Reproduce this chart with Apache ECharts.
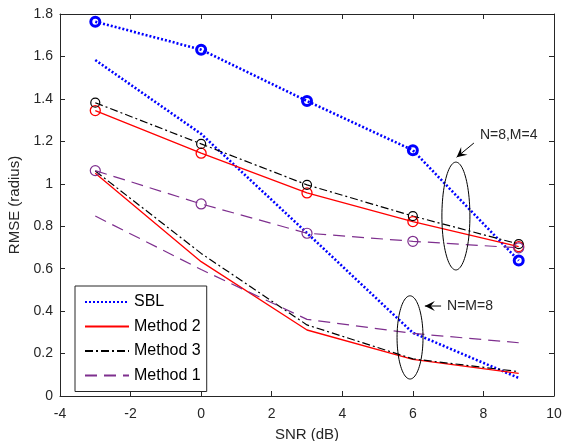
<!DOCTYPE html>
<html>
<head>
<meta charset="utf-8">
<script src="https://cdn.jsdelivr.net/npm/echarts@6/dist/echarts.min.js"></script>
<style>
  html, body { margin: 0; padding: 0; background: #fff; }
  #chart { width: 562px; height: 441px; }
</style>
</head>
<body>
<div id="chart"></div>
<script>
// SNR points (dB)
const snr = [-3, 0, 3, 6, 9];

// N=8, M=4 (with markers)
const sblA = [1.764, 1.632, 1.39, 1.158, 0.638];
const m2A = [1.345, 1.144, 0.957, 0.822, 0.704];
const m3A = [1.382, 1.188, 0.995, 0.848, 0.716];
const m1A = [1.062, 0.905, 0.767, 0.729, 0.698];

// N=M=8 (no markers)
const sblB = [1.583, 1.235, 0.768, 0.298, 0.085];
const m2B = [1.05, 0.633, 0.311, 0.173, 0.107];
const m3B = [1.06, 0.672, 0.335, 0.175, 0.115];
const m1B = [0.848, 0.596, 0.361, 0.295, 0.251];

const xTicks = [-4, 10, 2];
const yTicks = [0, 1.8, 0.2];

const seriesNames = ['SBL', 'Method 2', 'Method 3', 'Method 1'];

const TXT = '#262626';
const FONT = 'Liberation Sans, Arial, sans-serif';

const styles = {
  'SBL': { color: '#0000ff', width: 2.6, type: [2, 2], size: 9, bw: 3 },
  'Method 2': { color: '#ff0000', width: 1.3, type: 'solid', size: 10, bw: 1.3 },
  'Method 3': { color: '#000000', width: 1.2, type: [8, 3, 2, 3], size: 9, bw: 1.2 },
  'Method 1': { color: '#7e2f8e', width: 1.2, type: [12, 7], size: 10, bw: 1.2 }
};

function pairs(vals) {
  return snr.map((x, i) => [x, vals[i]]);
}

function makeSeries(name, vals, marker) {
  const s = styles[name];
  return {
    name: name,
    type: 'line',
    data: pairs(vals),
    symbol: marker ? 'circle' : 'none',
    symbolSize: s.size,
    showSymbol: marker,
    lineStyle: { color: s.color, width: s.width, type: s.type, cap: 'butt' },
    itemStyle: { color: 'rgba(0,0,0,0)', borderColor: s.color, borderWidth: s.bw },
    emphasis: { disabled: true },
    animation: false,
    z: 3
  };
}

// annotation: ellipses (data units) and labelled arrows
const ellipses = [
  [7.22, 0.848, 0.397, 0.254],
  [5.92, 0.276, 0.368, 0.196]
];
const notes = [
  { tip: [7.24, 1.125], tail: [7.73, 1.192], text: [7.9, 1.23], label: 'N=8,M=4' },
  { tip: [6.34, 0.424], tail: [6.8, 0.424], text: [6.97, 0.424], label: 'N=M=8' }
];

function arrowHead(tip, tail) {
  const dx = tip[0] - tail[0], dy = tip[1] - tail[1];
  const len = Math.sqrt(dx * dx + dy * dy);
  const ux = dx / len, uy = dy / len;
  const px = -uy, py = ux;
  const L = 10, W = 5, N = 6;
  return [
    tip,
    [tip[0] - ux * L + px * W, tip[1] - uy * L + py * W],
    [tip[0] - ux * N, tip[1] - uy * N],
    [tip[0] - ux * L - px * W, tip[1] - uy * L - py * W]
  ];
}

function renderNotes(params, api) {
  const children = [];
  ellipses.forEach(e => {
    const c = api.coord([e[0], e[1]]);
    const rx = api.size([e[2], 0])[0];
    const ry = api.size([0, e[3]])[1];
    const pts = [];
    for (let k = 0; k < 90; k++) {
      const a = (k / 90) * Math.PI * 2;
      pts.push([c[0] + rx * Math.cos(a), c[1] + ry * Math.sin(a)]);
    }
    children.push({
      type: 'polygon',
      shape: { points: pts },
      style: { fill: 'none', stroke: '#000', lineWidth: 1 }
    });
  });
  notes.forEach(n => {
    const tip = api.coord(n.tip);
    const tail = api.coord(n.tail);
    const t = api.coord(n.text);
    children.push({
      type: 'line',
      shape: { x1: tail[0], y1: tail[1], x2: tip[0], y2: tip[1] },
      style: { stroke: '#000', lineWidth: 1 }
    });
    children.push({
      type: 'polygon',
      shape: { points: arrowHead(tip, tail) },
      style: { fill: '#000' }
    });
    children.push({
      type: 'text',
      style: {
        x: t[0], y: t[1], text: n.label, fill: TXT,
        font: '14px ' + FONT, verticalAlign: 'middle', align: 'left'
      }
    });
  });
  return { type: 'group', children: children };
}

const chart = echarts.init(document.getElementById('chart'), null, { renderer: 'canvas' });

const axisCommon = {
  axisLine: { show: true, onZero: false, lineStyle: { color: TXT, width: 1 } },
  axisTick: { show: true, inside: true, length: 5, lineStyle: { color: TXT } },
  splitLine: { show: false }
};

const option = {
  backgroundColor: '#fff',
  animation: false,
  textStyle: { fontFamily: FONT },
  grid: { left: 60, right: 8, top: 14, bottom: 45, containLabel: false, outerBoundsMode: 'none' },
  legend: {
    data: seriesNames,
    orient: 'vertical',
    left: 75,
    top: 286,
    itemWidth: 44,
    itemHeight: 14,
    itemGap: 8.5,
    padding: [8, 6, 8, 9],
    borderColor: TXT,
    borderWidth: 1,
    backgroundColor: '#fff',
    selectedMode: false,
    itemStyle: { opacity: 0 },
    textStyle: { color: '#000', fontSize: 16, fontFamily: FONT }
  },
  xAxis: [
    Object.assign({
      type: 'value', min: xTicks[0], max: xTicks[1], interval: xTicks[2],
      name: 'SNR (dB)', nameLocation: 'middle', nameGap: 31,
      nameTextStyle: { color: TXT, fontSize: 15 },
      axisLabel: { color: TXT, fontSize: 14, margin: 11 }
    }, axisCommon),
    Object.assign({
      type: 'value', position: 'top', min: xTicks[0], max: xTicks[1], interval: xTicks[2],
      axisLabel: { show: false }
    }, axisCommon)
  ],
  yAxis: [
    Object.assign({
      type: 'value', min: yTicks[0], max: yTicks[1], interval: yTicks[2],
      name: 'RMSE (radius)', nameLocation: 'middle', nameGap: 26,
      nameTextStyle: { color: TXT, fontSize: 15 },
      axisLabel: { color: TXT, fontSize: 14, margin: 7 }
    }, axisCommon),
    Object.assign({
      type: 'value', position: 'right', min: yTicks[0], max: yTicks[1], interval: yTicks[2],
      axisLabel: { show: false }
    }, axisCommon)
  ],
  series: [
    makeSeries('SBL', sblB, false),
    makeSeries('Method 2', m2B, false),
    makeSeries('Method 3', m3B, false),
    makeSeries('Method 1', m1B, false),
    makeSeries('SBL', sblA, true),
    makeSeries('Method 2', m2A, true),
    makeSeries('Method 3', m3A, true),
    makeSeries('Method 1', m1A, true),
    {
      type: 'custom',
      name: 'notes',
      data: [[0, 0]],
      renderItem: renderNotes,
      silent: true,
      clip: false,
      z: 5
    }
  ]
};

chart.setOption(option);
</script>
</body>
</html>
